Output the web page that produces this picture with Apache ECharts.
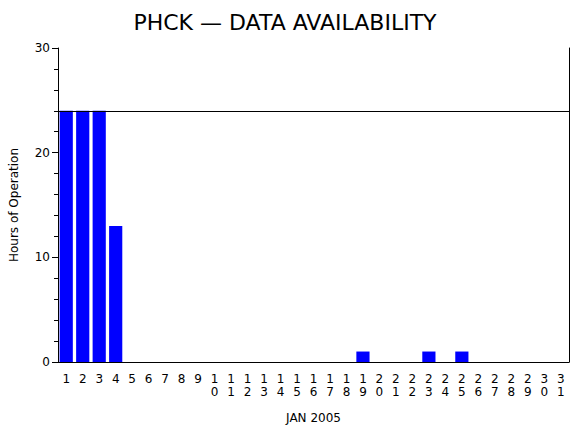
<!DOCTYPE html>
<html>
<head>
<meta charset="utf-8">
<script src="https://cdn.jsdelivr.net/npm/echarts@6/dist/echarts.min.js"></script>
<style>html,body{margin:0;padding:0;background:#fff}#main{width:570px;height:430px}</style>
</head>
<body>
<div id="main"></div>
<script>
var days = [];
for (var d = 1; d <= 31; d++) days.push(String(d));
var hours = [24, 24, 24, 13, 0, 0, 0, 0, 0, 0, 0, 0, 0, 0, 0, 0, 0, 0, 1, 0, 0, 0, 1, 0, 1, 0, 0, 0, 0, 0, 0];
var refLine = 24;

var chartDom = document.getElementById('main');
var myChart = echarts.init(chartDom, null, { renderer: 'svg' });
var font = 'DejaVu Sans';
var option = {
    animation: false,
    title: {
        text: 'PHCK \u2014 DATA AVAILABILITY',
        left: 'center',
        top: 6,
        textStyle: { fontFamily: font, fontSize: 22, fontWeight: 'normal', color: '#000' }
    },
    grid: { left: 58, right: 1, top: 48, bottom: 68 },
    xAxis: {
        type: 'category',
        data: days,
        name: 'JAN 2005',
        nameLocation: 'middle',
        nameGap: 50,
        nameTextStyle: { fontFamily: font, fontSize: 12, color: '#000' },
        axisLine: { lineStyle: { color: '#000', width: 1 } },
        axisTick: { show: false },
        axisLabel: {
            interval: 0,
            margin: 10,
            lineHeight: 13,
            fontFamily: font,
            fontSize: 12,
            color: '#000',
            formatter: function (v) { return v.split('').join('\n'); }
        }
    },
    yAxis: [{
        type: 'value',
        min: 0,
        max: 30,
        interval: 10,
        name: 'Hours of Operation',
        nameLocation: 'middle',
        nameGap: 38,
        nameTextStyle: { fontFamily: font, fontSize: 12, color: '#000' },
        splitLine: { show: false },
        axisLine: { show: true, lineStyle: { color: '#000' } },
        axisTick: { show: true, inside: false, length: 6, lineStyle: { color: '#000' } },
        minorTick: { show: true, splitNumber: 5, length: 4, lineStyle: { color: '#000', width: 1 } },
        axisLabel: { fontFamily: font, fontSize: 12, color: '#000', margin: 8 }
    }, {
        type: 'value',
        position: 'right',
        min: 0,
        max: 30,
        interval: 10,
        splitLine: { show: false },
        axisLine: { show: true, lineStyle: { color: '#000' } },
        axisTick: { show: false },
        axisLabel: { show: false }
    }],
    series: [{
        type: 'bar',
        data: hours,
        barCategoryGap: '20%',
        itemStyle: { color: '#0000ff' },
        markLine: {
            silent: true,
            symbol: 'none',
            label: { show: false },
            lineStyle: { color: '#000', type: 'solid', width: 1 },
            data: [{ yAxis: refLine }]
        }
    }]
};
myChart.setOption(option);
</script>
</body>
</html>
